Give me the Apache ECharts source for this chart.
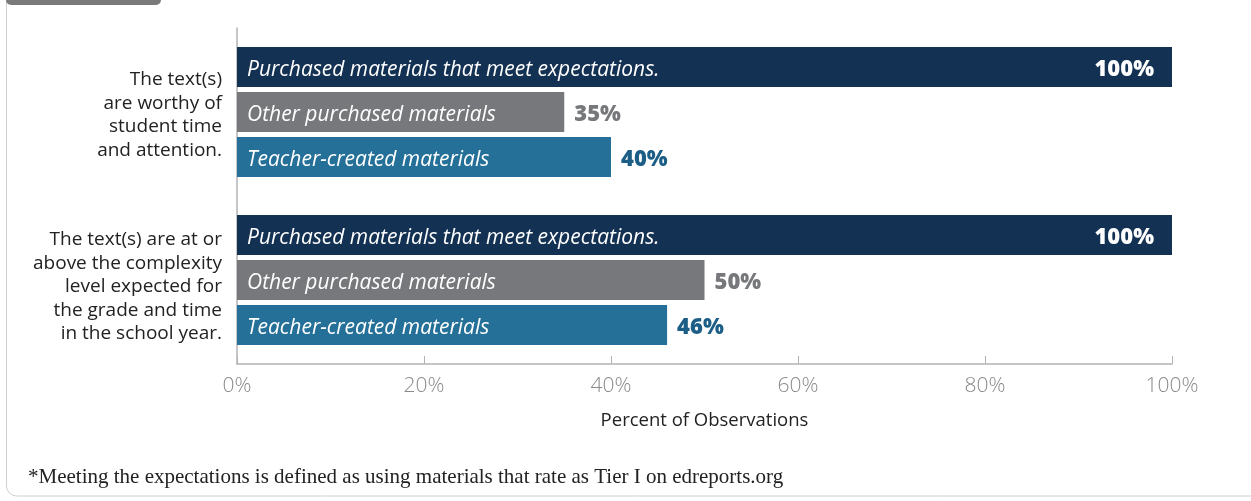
<!DOCTYPE html>
<html>
<head>
<meta charset="utf-8">
<script src="https://cdn.jsdelivr.net/npm/echarts@6/dist/echarts.min.js"></script>
<style>
html,body{margin:0;padding:0;background:#fff;}
#chart{width:1251px;height:501px;}
</style>
</head>
<body>
<div id="chart"></div>
<script>
const categories = [
  'The text(s)\nare worthy of\nstudent time\nand attention.',
  'The text(s) are at or\nabove the complexity\nlevel expected for\nthe grade and time\nin the school year.'
];
const seriesNames = [
  'Purchased materials that meet expectations.',
  'Other purchased materials',
  'Teacher-created materials'
];
const purchasedMeet = [100, 100];
const otherPurchased = [35, 50];
const teacherCreated = [40, 46];
const xTicks = [0, 20, 40, 60, 80, 100];
const footnote = '*Meeting the expectations is defined as using materials that rate as Tier I on edreports.org';

const barColors = ['#133152', '#77787b', '#247098'];
const valueColors = ['#ffffff', '#77787b', '#1c5e86'];
const values = [purchasedMeet, otherPurchased, teacherCreated];

const FONT = '"Open Sans", "Noto Sans", sans-serif';
const barW = 40;
const gap = '12.5%';

const chart = echarts.init(document.getElementById('chart'));

const series = [];
values.forEach((vals, i) => {
  series.push({
    name: seriesNames[i],
    type: 'bar',
    yAxisIndex: 0,
    barWidth: barW,
    barGap: gap,
    data: vals,
    itemStyle: { color: barColors[i] },
    label: {
      show: true,
      position: 'insideLeft',
      distance: 10,
      offset: [0, 3],
      formatter: seriesNames[i],
      color: '#ffffff',
      fontFamily: FONT,
      fontStyle: 'italic',
      fontSize: 21
    },
    emphasis: { disabled: true },
    silent: true
  });
});
values.forEach((vals, i) => {
  series.push({
    name: seriesNames[i] + ' value',
    type: 'bar',
    yAxisIndex: 1,
    barWidth: barW,
    barGap: gap,
    data: vals.map(v => v >= 100
      ? { value: v, label: { position: 'insideRight', distance: 18, color: '#ffffff' } }
      : { value: v, label: { position: 'right', distance: 10, color: valueColors[i] } }),
    itemStyle: { color: 'rgba(0,0,0,0)' },
    label: {
      show: true,
      formatter: '{c}%',
      offset: [0, 3],
      fontFamily: FONT,
      fontWeight: 800,
      fontSize: 22
    },
    emphasis: { disabled: true },
    silent: true
  });
});

chart.setOption({
  animation: false,
  grid: { left: 237, right: 79, top: 28, bottom: 137 },
  xAxis: {
    type: 'value',
    min: xTicks[0],
    max: xTicks[xTicks.length - 1],
    interval: 20,
    name: 'Percent of Observations',
    nameLocation: 'middle',
    nameGap: 47,
    nameTextStyle: { color: '#222222', fontFamily: FONT, fontSize: 18.5 },
    axisLine: { show: true, lineStyle: { color: '#b3b3b3', width: 1.5 } },
    axisTick: { show: true, inside: true, length: 8, lineStyle: { color: '#b3b3b3' } },
    splitLine: { show: false },
    axisLabel: {
      formatter: '{value}%',
      color: '#8a8a8a',
      fontFamily: FONT,
      fontWeight: 300,
      fontSize: 21,
      margin: 12
    }
  },
  yAxis: [
    {
      type: 'category',
      data: categories,
      inverse: true,
      axisLine: { show: true, lineStyle: { color: '#b3b3b3', width: 1.5 } },
      axisTick: { show: false },
      axisLabel: {
        align: 'right',
        margin: 15,
        formatter: function (value, index) {
          const sp = index === 0 ? 'sp1' : 'sp2';
          return '{' + sp + '| }\n' + value.split('\n').map(l => '{t|' + l + '}').join('\n');
        },
        rich: {
          t: { color: '#222222', fontFamily: FONT, fontSize: 19, lineHeight: 23.5, align: 'right' },
          sp1: { fontSize: 1, lineHeight: 6 },
          sp2: { fontSize: 1, lineHeight: 14 }
        }
      }
    },
    {
      type: 'category',
      data: categories,
      inverse: true,
      show: false
    }
  ],
  series: series,
  graphic: [
    {
      type: 'rect',
      shape: { x: 6.5, y: -20, width: 1400, height: 516, r: 10 },
      style: { fill: 'none', stroke: '#cfcfcf', lineWidth: 1 },
      silent: true
    },
    {
      type: 'rect',
      shape: { x: 6, y: -10, width: 155, height: 15, r: 5 },
      style: { fill: '#7a7a7a' },
      silent: true
    },
    {
      type: 'text',
      left: 28,
      top: 467,
      style: {
        text: footnote,
        fill: '#222222',
        font: '21px "Liberation Serif", "DejaVu Serif", serif'
      },
      silent: true
    }
  ]
});
</script>
</body>
</html>
